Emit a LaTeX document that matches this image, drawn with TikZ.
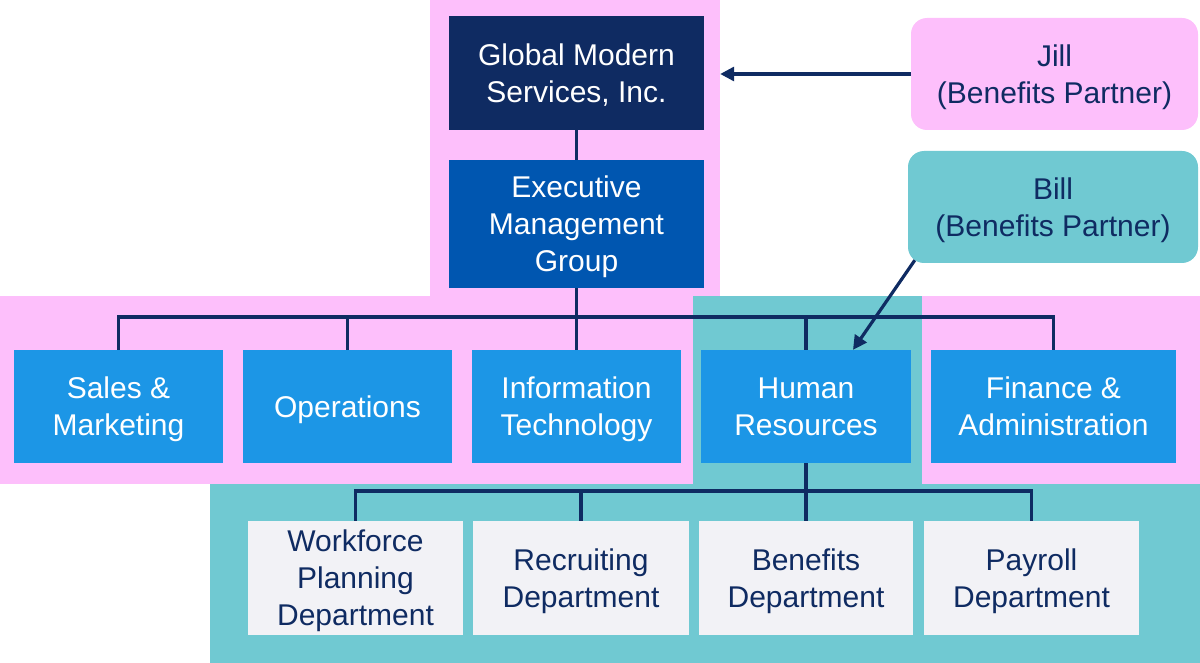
\documentclass[tikz,border=0pt]{standalone}
\usepackage{fontspec}
\setmainfont{Liberation Sans}
\usetikzlibrary{arrows.meta}
\definecolor{navy}{HTML}{0F2B62}
\definecolor{execblue}{HTML}{0056B0}
\definecolor{unitblue}{HTML}{1C96E6}
\definecolor{pinkbg}{HTML}{FDBFFB}
\definecolor{tealbg}{HTML}{70C9D2}
\definecolor{paper}{HTML}{F2F2F6}
\begin{document}
\begin{tikzpicture}[x=1pt,y=-1pt,
    box/.style={rectangle,inner sep=0pt,align=center,font=\fontsize{30}{37}\selectfont,text depth=-8pt},
    topbox/.style={box,fill=navy,text=white,minimum width=255pt,minimum height=114pt},
    execbox/.style={box,fill=execblue,text=white,minimum width=255pt,minimum height=128pt},
    unitbox/.style={box,fill=unitblue,text=white,minimum height=113pt},
    deptbox/.style={box,fill=paper,text=navy,minimum height=114pt},
    partner/.style={box,text=navy,rounded corners=16pt,minimum height=112pt},
    link/.style={draw=navy,line width=3.2pt},
    arrowline/.style={link,-{Triangle[length=14pt,width=14pt]}}]
    \useasboundingbox (0,0) rectangle (1200,663);
    % backgrounds
    \fill[pinkbg] (430,0) rectangle (720,296);
    \fill[pinkbg] (0,296) rectangle (693,484);
    \fill[pinkbg] (922,296) rectangle (1200,484);
    \fill[tealbg] (693,296) rectangle (922,484);
    \fill[tealbg] (210,484) rectangle (1200,663);
    % top of the chart
    \node[topbox] (gms) at (576.5,73) {Global Modern\\Services, Inc.};
    \node[execbox] (emg) at (576.5,224) {Executive\\Management\\Group};
    % units
    \node[unitbox,minimum width=209pt] (sales) at (118.5,406.5) {Sales \&\\Marketing};
    \node[unitbox,minimum width=209pt] (ops) at (347.5,406.5) {Operations};
    \node[unitbox,minimum width=209pt] (it) at (576.5,406.5) {Information\\Technology};
    \node[unitbox,minimum width=210pt] (hr) at (806,406.5) {Human\\Resources};
    \node[unitbox,minimum width=245pt] (fin) at (1053.5,406.5) {Finance \&\\Administration};
    % departments of hr
    \node[deptbox,minimum width=215pt] (wfp) at (355.5,578) {Workforce\\Planning\\Department};
    \node[deptbox,minimum width=216pt] (rec) at (581,578) {Recruiting\\Department};
    \node[deptbox,minimum width=214pt] (ben) at (806,578) {Benefits\\Department};
    \node[deptbox,minimum width=215pt] (pay) at (1031.5,578) {Payroll\\Department};
    % partners
    \node[partner,fill=pinkbg,minimum width=287pt] (jill) at (1054.5,74) {Jill\\(Benefits Partner)};
    \node[partner,fill=tealbg,minimum width=290pt] (bill) at (1053,207) {Bill\\(Benefits Partner)};
    % connectors
    \coordinate (ubus) at (576.5,317);
    \coordinate (dbus) at (806,491);
    \draw[link] (gms) -- (emg);
    \draw[link] (emg.south) -- (ubus);
    \draw[link] (sales.north) -- (sales.north |- ubus) -- (fin.north |- ubus) -- (fin.north);
    \foreach \u in {ops,it,hr} {\draw[link] (\u.north) -- (\u.north |- ubus);}
    \draw[link] (hr.south) -- (dbus);
    \draw[link] (wfp.north) -- (wfp.north |- dbus) -- (pay.north |- dbus) -- (pay.north);
    \foreach \d in {rec,ben} {\draw[link] (\d.north) -- (\d.north |- dbus);}
    \draw[arrowline,shorten >=16pt] (jill.west) -- (jill.west -| gms.east);
    \draw[arrowline] ([xshift=7pt,yshift=3pt]bill.south west) -- ([xshift=47pt]hr.north);
\end{tikzpicture}
\end{document}
